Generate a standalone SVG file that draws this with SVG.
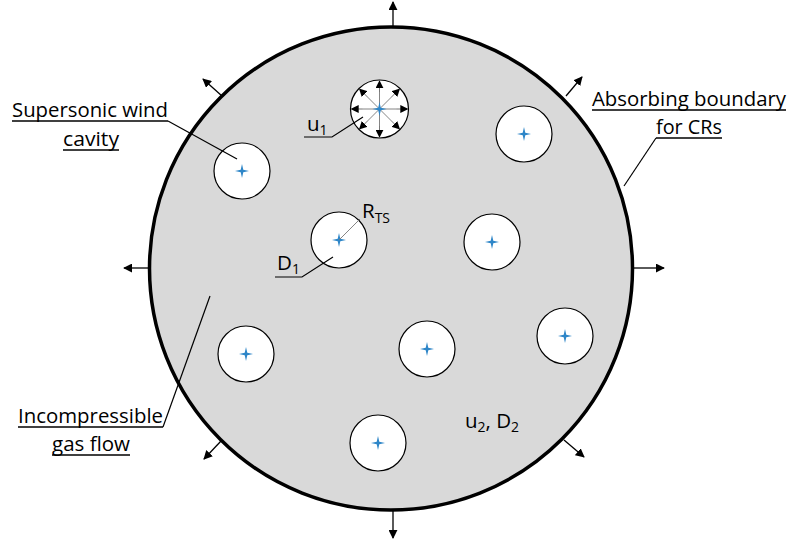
<svg xmlns="http://www.w3.org/2000/svg" width="791" height="543" viewBox="0 0 791 543">
<defs>
<marker id="ah" viewBox="0 0 10 10" refX="9" refY="5" markerWidth="9" markerHeight="9" orient="auto" markerUnits="userSpaceOnUse"><path d="M0,0 L10,5 L0,10 z" fill="#000"/></marker>
<marker id="ahs" viewBox="0 0 10 10" refX="9" refY="5" markerWidth="8" markerHeight="8" orient="auto" markerUnits="userSpaceOnUse"><path d="M0,0 L10,5 L0,10 z" fill="#000"/></marker>
<path id="star" d="M0,-7 L1.3,-1.3 L7,0 L1.3,1.3 L0,7 L-1.3,1.3 L-7,0 L-1.3,-1.3 z" fill="#2E86C8"/>
</defs>
<style>
.cav{fill:#fff;stroke:#000;stroke-width:1.2}
.lbl{font-family:"Open Sans","Liberation Sans",sans-serif;font-size:20.5px;fill:#000}
.sub{font-size:14px}
.ul{stroke:#000;stroke-width:1.3}
.lead{stroke:#000;stroke-width:1.2;fill:none}
.out{stroke:#000;stroke-width:1.3;marker-end:url(#ah)}
.in{stroke:#777;stroke-width:0.9}
.inh{stroke:#000;stroke-width:0.1;marker-end:url(#ahs)}
</style>
<rect width="791" height="543" fill="#fff"/>
<g id="outer">
<circle cx="391" cy="268.5" r="241.5" fill="#d9d9d9" stroke="#000" stroke-width="3.5"/>
</g>
<g id="connectors">
<line class="out" x1="393" y1="26" x2="393" y2="2"/>
<line class="out" x1="393" y1="511" x2="393" y2="538"/>
<line class="out" x1="150" y1="268" x2="124" y2="268"/>
<line class="out" x1="633" y1="268" x2="664" y2="268"/>
<line class="out" x1="222" y1="96" x2="203" y2="79"/>
<line class="out" x1="566" y1="96" x2="582" y2="77"/>
<line class="out" x1="221" y1="441" x2="204" y2="459"/>
<line class="out" x1="564" y1="440" x2="584" y2="457"/>
</g>
<g id="cav1"><circle class="cav" cx="379.5" cy="109" r="29"/>
<g stroke="#777" stroke-width="0.9">
<line x1="379.5" y1="109" x2="379.5" y2="82"/>
<line x1="379.5" y1="109" x2="379.5" y2="136"/>
<line x1="379.5" y1="109" x2="352.5" y2="109"/>
<line x1="379.5" y1="109" x2="406.5" y2="109"/>
<line x1="379.5" y1="109" x2="360.5" y2="90"/>
<line x1="379.5" y1="109" x2="398.5" y2="90"/>
<line x1="379.5" y1="109" x2="360.5" y2="128"/>
<line x1="379.5" y1="109" x2="398.5" y2="128"/>
</g>
<g>
<line class="inh" x1="379.5" y1="92" x2="379.5" y2="81"/>
<line class="inh" x1="379.5" y1="126" x2="379.5" y2="137"/>
<line class="inh" x1="362.5" y1="109" x2="351.5" y2="109"/>
<line class="inh" x1="396.5" y1="109" x2="407.5" y2="109"/>
<line class="inh" x1="367.5" y1="97" x2="359.5" y2="89"/>
<line class="inh" x1="391.5" y1="97" x2="399.5" y2="89"/>
<line class="inh" x1="367.5" y1="121" x2="359.5" y2="129"/>
<line class="inh" x1="391.5" y1="121" x2="399.5" y2="129"/>
</g>
<use href="#star" x="379.5" y="109"/></g>
<g id="cav2"><circle class="cav" cx="524" cy="134" r="28"/><use href="#star" x="524" y="134"/></g>
<g id="cav3"><circle class="cav" cx="242" cy="171" r="28"/><use href="#star" x="242" y="171"/></g>
<g id="cav4"><circle class="cav" cx="339" cy="240" r="28"/><use href="#star" x="339" y="240"/>
<line class="in" x1="339" y1="240" x2="360" y2="219"/></g>
<g id="cav5"><circle class="cav" cx="492" cy="242" r="28"/><use href="#star" x="492" y="242"/></g>
<g id="cav6"><circle class="cav" cx="246" cy="354" r="28"/><use href="#star" x="246" y="354"/></g>
<g id="cav7"><circle class="cav" cx="427" cy="349" r="28"/><use href="#star" x="427" y="349"/></g>
<g id="cav8"><circle class="cav" cx="565" cy="336" r="28"/><use href="#star" x="565" y="336"/></g>
<g id="cav9"><circle class="cav" cx="378" cy="443" r="28"/><use href="#star" x="378" y="443"/></g>
<g id="label-supersonic">
<text class="lbl" x="12" y="117" textLength="156" lengthAdjust="spacingAndGlyphs">Supersonic wind</text>
<text class="lbl" x="63" y="146" textLength="56" lengthAdjust="spacingAndGlyphs">cavity</text>
<line class="ul" x1="12" y1="121" x2="168" y2="121"/>
<line class="ul" x1="63" y1="150" x2="119" y2="150"/>
<polyline class="lead" points="168,121 237,159"/>
</g>
<g id="label-u1">
<text class="lbl" x="307" y="131">u<tspan class="sub" dy="4">1</tspan></text>
<polyline class="lead" points="304,137 332,137 363,117"/>
</g>
<g id="label-rts">
<text class="lbl" x="362" y="218">R<tspan class="sub" dy="5">TS</tspan></text>
</g>
<g id="label-d1">
<text class="lbl" x="277" y="270">D<tspan class="sub" dy="4">1</tspan></text>
<polyline class="lead" points="275,277 302,277 333,257"/>
</g>
<g id="label-absorbing">
<text class="lbl" x="592" y="106" textLength="194" lengthAdjust="spacingAndGlyphs">Absorbing boundary</text>
<text class="lbl" x="656" y="134" textLength="66" lengthAdjust="spacingAndGlyphs">for CRs</text>
<line class="ul" x1="592" y1="110" x2="786" y2="110"/>
<line class="ul" x1="656" y1="138" x2="722" y2="138"/>
<polyline class="lead" points="656,138 624,186"/>
</g>
<g id="label-incompressible">
<text class="lbl" x="18" y="423" textLength="145" lengthAdjust="spacingAndGlyphs">Incompressible</text>
<text class="lbl" x="52" y="451" textLength="78" lengthAdjust="spacingAndGlyphs">gas flow</text>
<line class="ul" x1="18" y1="427" x2="163" y2="427"/>
<line class="ul" x1="52" y1="455" x2="130" y2="455"/>
<polyline class="lead" points="163,427 210,296"/>
</g>
<g id="label-u2d2">
<text class="lbl" x="465" y="428">u<tspan class="sub" dy="4">2</tspan><tspan dy="-4">, D</tspan><tspan class="sub" dy="4">2</tspan></text>
</g>
</svg>
